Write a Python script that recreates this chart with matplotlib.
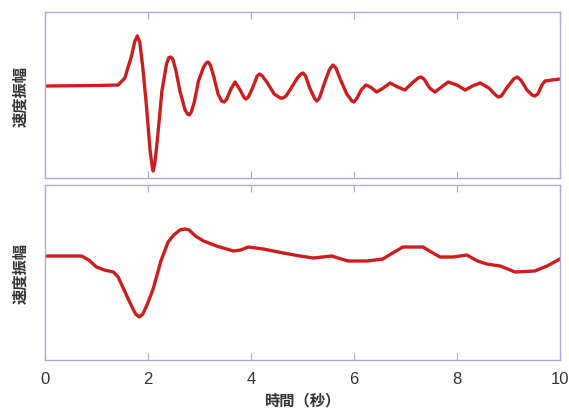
import matplotlib
matplotlib.use('Agg')
import matplotlib.pyplot as plt

plt.rcParams['font.family'] = ['Noto Sans CJK JP', 'DejaVu Sans']

# 上段: 速度振幅 (短周期)
t_top = [0, 1.0, 1.42, 1.55, 1.68, 1.74, 1.79, 1.84, 1.90, 1.97, 2.04, 2.08, 2.1, 2.13, 2.18,
         2.27, 2.36, 2.40, 2.44, 2.48, 2.54, 2.62, 2.72, 2.77, 2.8, 2.84, 2.90, 2.98, 3.08,
         3.13, 3.17, 3.21, 3.28, 3.36, 3.43, 3.48, 3.53, 3.60, 3.69, 3.79, 3.86, 3.9,
         3.95, 4.03, 4.12, 4.17, 4.22, 4.32, 4.45, 4.57, 4.62, 4.68, 4.78, 4.90, 4.97,
         5.01, 5.06, 5.14, 5.24, 5.28, 5.33, 5.42, 5.52, 5.59, 5.65, 5.74, 5.86, 5.96,
         6.0, 6.06, 6.14, 6.23, 6.32, 6.44, 6.57, 6.70, 6.85, 6.99, 7.15, 7.25, 7.30,
         7.36, 7.47, 7.57, 7.70, 7.83, 8.00, 8.16, 8.30, 8.45, 8.62, 8.75, 8.80, 8.86,
         8.98, 9.10, 9.17, 9.24, 9.36, 9.46, 9.51, 9.57, 9.65, 9.71, 9.85, 10]
v_top = [0, 0.5, 1, 8, 30, 44, 50, 44, 18, -20, -64, -80, -85, -78, -55,
         -5, 22, 28, 29, 27, 16, -5, -24, -28, -29, -26, -16, 5, 19,
         23, 24, 21, 9, -8, -15, -16, -13, -4, 4, -4, -11, -13,
         -11, -2, 10, 12, 10, 3, -8, -12, -12, -10, -2, 8, 12,
         13, 10, -2, -13, -15, -12, 2, 16, 21, 18, 6, -8, -15,
         -16, -12, -4, 1, -1, -6, -2, 3, -1, -4, 4, 8, 9,
         7, -2, -6, -1, 4, 1, -4, 0, 3, -2, -9, -11, -10,
         -1, 7, 9, 6, -4, -9, -10, -8, 1, 5, 6, 7]

# 下段: 速度振幅 (長周期)
t_bot = [0, 0.71, 0.85, 1.0, 1.15, 1.33, 1.42, 1.50, 1.59, 1.68, 1.76, 1.83, 1.90, 1.98,
         2.1, 2.25, 2.39, 2.50, 2.62, 2.72, 2.80, 2.92, 3.08, 3.33, 3.66, 3.80, 3.95,
         4.10, 4.24, 4.63, 4.95, 5.21, 5.57, 5.75, 5.89, 6.25, 6.56, 6.75, 6.95, 7.34,
         7.50, 7.67, 7.93, 8.19, 8.40, 8.58, 8.84, 9.13, 9.51, 9.75, 10]
v_bot = [0, 0, -4, -11, -14, -16, -21, -30, -40, -50, -58, -61, -58, -49,
         -33, -5, 14, 21, 26, 27, 26, 20, 15, 10, 5, 6, 9,
         8, 7, 3, 0, -2, 0, -3, -5, -5, -3, 3, 9, 9,
         4, -1, -1, 1, -5, -8, -10, -16, -15, -10, -3]

xticks = [0, 2, 4, 6, 8, 10]

fig = plt.figure(figsize=(5.69, 4.14), dpi=100)
ax1 = fig.add_axes([0.0791, 0.5676, 0.905, 0.401])
ax2 = fig.add_axes([0.0791, 0.128, 0.905, 0.4227])

spine_c = '#aaaad2'
line_c = '#cc1e1e'

for ax in (ax1, ax2):
    ax.set_xlim(0, 10)
    ax.set_xticks(xticks)
    ax.set_yticks([])
    ax.tick_params(axis='x', direction='in', length=5, color=spine_c, top=True,
                   labelsize=12, labelcolor='#333333', pad=8)
    for lbl in ax.get_xticklabels():
        lbl.set_family(['Liberation Sans', 'DejaVu Sans'])
    for s in ax.spines.values():
        s.set_color(spine_c)
        s.set_linewidth(1.0)
    ax.set_ylabel('速度振幅', fontsize=11, fontweight='bold', color='#333333', labelpad=12)

ax1.plot(t_top, v_top, color=line_c, lw=2.4, solid_joinstyle='round')
ax1.set_ylim(-92, 74)
ax1.tick_params(axis='x', labelbottom=False)

ax2.plot(t_bot, v_bot, color=line_c, lw=2.4, solid_joinstyle='round')
ax2.set_ylim(-104, 71)
ax2.set_xlabel('時間（秒）', fontsize=11, fontweight='bold', color='#333333', labelpad=4)

fig.savefig('out.png', dpi=100)
